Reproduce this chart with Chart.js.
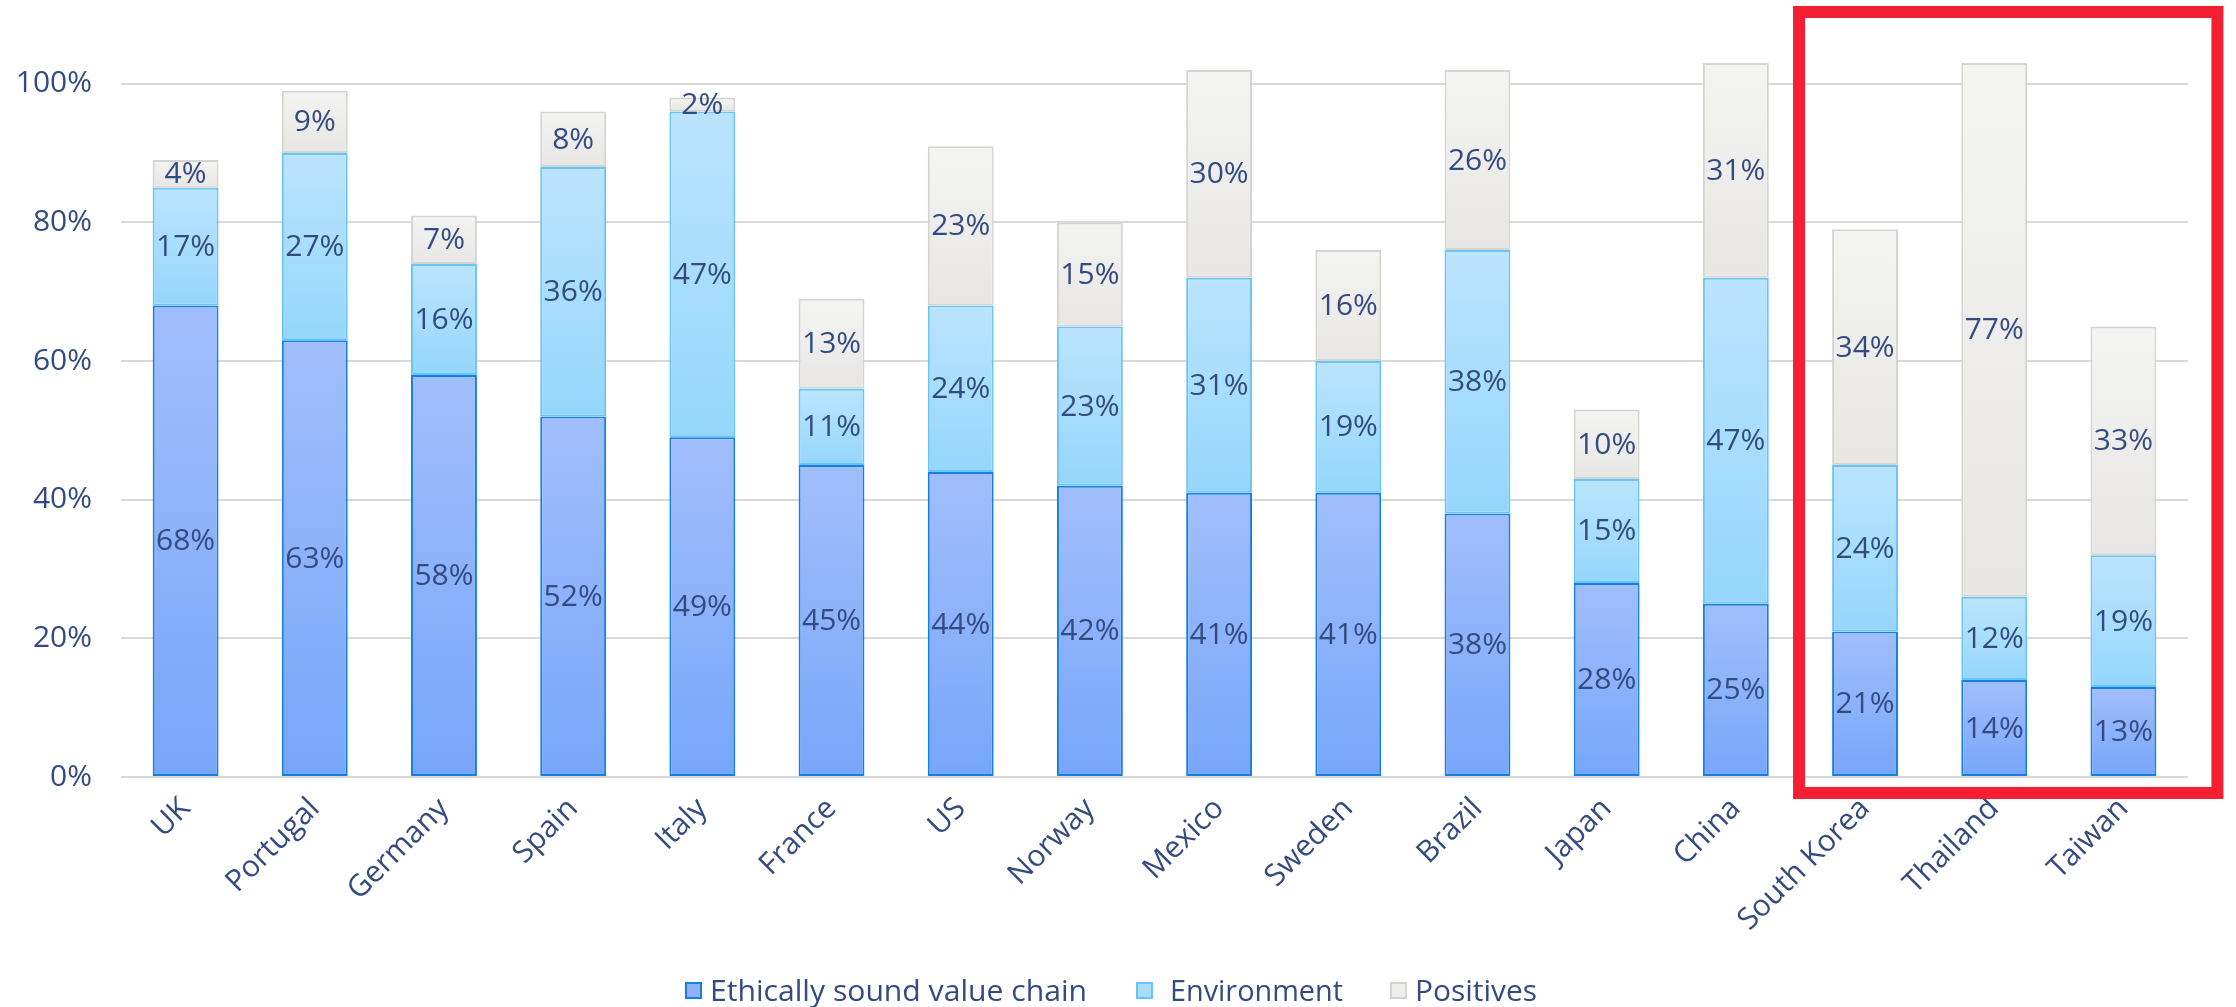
<!DOCTYPE html>
<html><head><meta charset="utf-8">
<script src="https://cdn.jsdelivr.net/npm/chart.js@4"></script>
<style>html,body{margin:0;padding:0;background:#fff}#wrap{width:2236px;height:1007px;position:relative}</style>
</head><body><div id="wrap"><canvas id="c" width="2236" height="1007"></canvas></div>
<script>
const categories = ['UK','Portugal','Germany','Spain','Italy','France','US','Norway','Mexico','Sweden','Brazil','Japan','China','South Korea','Thailand','Taiwan'];
const ethicallySound = [68,63,58,52,49,45,44,42,41,41,38,28,25,21,14,13];
const environment = [17,27,16,36,47,11,24,23,31,19,38,15,47,24,12,19];
const positives = [4,9,7,8,2,13,23,15,30,16,26,10,31,34,77,33];
const seriesNames = ['Ethically sound value chain','Environment','Positives'];
const highlightFrom = 'South Korea';
const highlightTo = 'Taiwan';

const allSeries = [ethicallySound, environment, positives];
const styles = [
  {top:'#A1BEFB', bottom:'#77A6FA', border:'#1380E2', legend:'#8FB3FA'},
  {top:'#BBE4FD', bottom:'#95D6FC', border:'#6AC5F7', legend:'#A8DEFC'},
  {top:'#F4F4F3', bottom:'#E7E6E4', border:'#D4D4D1', legend:'#EEEEEC'}
];
const TEXT = '#334B80';
const FONT = '"Open Sans", "Noto Sans", sans-serif';

function grad(di){
  return ctx => {
    const chart = ctx.chart, y = chart.scales.y;
    if (!y || ctx.type !== 'data') return styles[di].bottom;
    const i = ctx.dataIndex;
    let start = 0;
    for (let k = 0; k < di; k++) start += allSeries[k][i];
    const top = y.getPixelForValue(start + allSeries[di][i]);
    const bot = y.getPixelForValue(start);
    if (!isFinite(top) || !isFinite(bot) || top === bot) return styles[di].bottom;
    const g = chart.ctx.createLinearGradient(0, top, 0, bot);
    g.addColorStop(0, styles[di].top);
    g.addColorStop(1, styles[di].bottom);
    return g;
  };
}

const datasets = allSeries.map((arr, di) => ({
  label: seriesNames[di],
  data: arr,
  backgroundColor: grad(di),
  borderColor: styles[di].border,
  borderWidth: 2,
  borderSkipped: false,
  barPercentage: 0.51,
  categoryPercentage: 1.0
}));

const valueLabels = {
  id: 'valueLabels',
  afterDatasetsDraw(chart) {
    const c = chart.ctx;
    c.save();
    c.font = '30px ' + FONT;
    c.fillStyle = TEXT;
    c.textAlign = 'center';
    c.textBaseline = 'middle';
    chart.data.datasets.forEach((ds, di) => {
      const meta = chart.getDatasetMeta(di);
      meta.data.forEach((el, i) => {
        const v = ds.data[i];
        c.fillText(v + '%', el.x, (el.y + el.base) / 2 + 1);
      });
    });
    c.restore();
  }
};

const bottomLegend = {
  id: 'bottomLegend',
  afterDraw(chart) {
    const c = chart.ctx;
    const boxStarts = [685, 1136, 1390];
    const textStarts = [710, 1170, 1415];
    const widths = [377, 173, 122];
    c.save();
    c.font = '30px ' + FONT;
    c.textBaseline = 'alphabetic';
    chart.data.datasets.forEach((ds, di) => {
      const x = boxStarts[di];
      c.fillStyle = styles[di].legend;
      c.fillRect(x + 1, 983, 15, 15);
      c.strokeStyle = styles[di].border;
      c.lineWidth = 2;
      c.strokeRect(x + 1, 983, 15, 15);
      const w = c.measureText(ds.label).width;
      c.save();
      c.translate(textStarts[di], 1001);
      c.scale(widths[di] / w, 1);
      c.fillStyle = TEXT;
      c.fillText(ds.label, 0, 0);
      c.restore();
    });
    c.restore();
  }
};

const highlightBox = {
  id: 'highlightBox',
  afterDraw(chart) {
    const xs = chart.scales.x, ys = chart.scales.y;
    const i0 = categories.indexOf(highlightFrom), i1 = categories.indexOf(highlightTo);
    const left = xs.getPixelForValue(i0) - 66;
    const right = xs.getPixelForValue(i1) + 94;
    const top = 12;
    const bottom = ys.getPixelForValue(0) + 16;
    const c = chart.ctx;
    c.save();
    c.strokeStyle = '#F51F34';
    c.lineWidth = 12;
    c.strokeRect(left, top, right - left, bottom - top);
    c.restore();
  }
};

new Chart(document.getElementById('c'), {
  type: 'bar',
  data: { labels: categories, datasets },
  plugins: [valueLabels, bottomLegend, highlightBox],
  options: {
    responsive: false,
    devicePixelRatio: 1,
    animation: false,
    layout: { padding: { top: 15, right: 48, left: 0, bottom: 0 } },
    plugins: { legend: { display: false }, tooltip: { enabled: false } },
    scales: {
      x: {
        stacked: true,
        grid: { display: false, drawTicks: false },
        border: { display: false },
        ticks: { color: TEXT, font: { family: FONT, size: 30 }, minRotation: 45, maxRotation: 45, padding: 14, autoSkip: false },
        afterFit(s) { s.height = 230; }
      },
      y: {
        stacked: true,
        min: 0, max: 105.3,
        grid: { color: '#D9D9D9', lineWidth: 2, drawTicks: false },
        border: { display: false },
        ticks: { stepSize: 20, color: TEXT, font: { family: FONT, size: 30 }, padding: 29, callback: v => v + '%' },
        afterBuildTicks(s) { s.ticks = s.ticks.filter(t => t.value <= 100); },
        afterFit(s) { s.width = 121; }
      }
    }
  }
});
</script>
</body></html>
